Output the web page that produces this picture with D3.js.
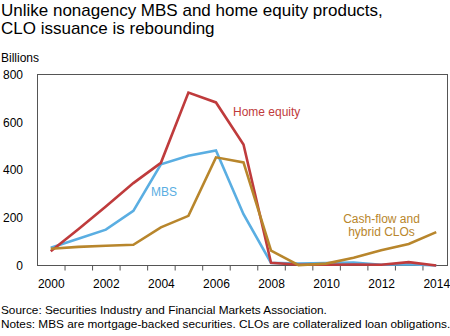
<!DOCTYPE html>
<html>
<head>
<meta charset="utf-8">
<script src="https://cdn.jsdelivr.net/npm/d3@7"></script>
<style>
  html, body { margin: 0; padding: 0; background: #fff; }
  svg { display: block; font-family: "Liberation Sans", Arial, sans-serif; }
</style>
</head>
<body>
<svg id="chart" width="450" height="336"></svg>
<script>
// Annual issuance, billions of dollars
const years = [2000, 2001, 2002, 2003, 2004, 2005, 2006, 2007, 2008, 2009, 2010, 2011, 2012, 2013, 2014];
const homeEquity = [60, 152, 247, 345, 430, 724, 683, 507, 11, 3, 3, 4, 3, 14, 0];
const mbs = [74, 112, 150, 229, 424, 460, 482, 215, 11, 8, 10, 12, 3, 5, 0];
const clos = [70, 78, 83, 87, 160, 208, 453, 432, 62, 1, 8, 32, 64, 90, 140];
const yTicks = [0, 200, 400, 600, 800];
const xLabelYears = [2000, 2002, 2004, 2006, 2008, 2010, 2012, 2014];

const colors = { red: "#bf3b3c", blue: "#5aaee2", gold: "#b8862c" };

const svg = d3.select("#chart");

const x = d3.scaleLinear().domain([1999.5, 2014.5]).range([37, 450]);
const y = d3.scaleLinear().domain([0, 800]).range([265.5, 74.5]);

// Title
svg.append("text")
  .attr("x", 1).attr("y", 15.5)
  .attr("font-size", 17).attr("fill", "#000")
  .selectAll("tspan")
  .data(["Unlike nonagency MBS and home equity products,", "CLO issuance is rebounding"])
  .join("tspan")
  .attr("x", 1)
  .attr("dy", (d, i) => i === 0 ? 0 : 18.5)
  .text(d => d);

svg.append("text")
  .attr("x", 1).attr("y", 61.5)
  .attr("font-size", 12).attr("fill", "#000")
  .text("Billions");

// Y axis labels
const yAxis = svg.append("g")
  .attr("transform", "translate(37.5,0)")
  .call(d3.axisLeft(y).tickValues(yTicks).tickSize(0).tickPadding(14.5));
yAxis.select(".domain").remove();
yAxis.selectAll("text").attr("font-size", 12).attr("font-family", "Liberation Sans, Arial, sans-serif").attr("fill", "#000");

// X axis tick marks between years
const xTickAxis = svg.append("g")
  .attr("transform", "translate(0,265.5)")
  .call(d3.axisBottom(x)
    .tickValues(years.slice(0, -1).map(d => d + 0.5))
    .tickSizeInner(5).tickSizeOuter(0).tickFormat(""));
xTickAxis.select(".domain").remove();
xTickAxis.selectAll("line").attr("stroke", "#555");

// X axis year labels
const xLabelAxis = svg.append("g")
  .attr("transform", "translate(0,265.5)")
  .call(d3.axisBottom(x).tickValues(xLabelYears).tickSize(0).tickPadding(14).tickFormat(d3.format("d")));
xLabelAxis.select(".domain").remove();
xLabelAxis.selectAll("text").attr("font-size", 12).attr("font-family", "Liberation Sans, Arial, sans-serif").attr("fill", "#000");

// Plot frame
svg.append("rect")
  .attr("x", 37.5).attr("y", 74.5)
  .attr("width", 410).attr("height", 191)
  .attr("fill", "none").attr("stroke", "#555").attr("stroke-width", 1);

const line = d3.line().x((d, i) => x(years[i])).y(d => y(d));

const series = [
  { values: mbs, color: colors.blue },
  { values: homeEquity, color: colors.red },
  { values: clos, color: colors.gold }
];

svg.selectAll("path.series")
  .data(series)
  .join("path")
  .attr("class", "series")
  .attr("d", d => line(d.values))
  .attr("fill", "none")
  .attr("stroke", d => d.color)
  .attr("stroke-width", 2.6)
  .attr("stroke-linejoin", "miter");

// Series labels
svg.append("text").attr("x", 233).attr("y", 116)
  .attr("font-size", 12).attr("fill", colors.red).text("Home equity");
svg.append("text").attr("x", 151).attr("y", 195.5)
  .attr("font-size", 12).attr("fill", colors.blue).text("MBS");
svg.append("text").attr("x", 381.5).attr("y", 222.5)
  .attr("text-anchor", "middle")
  .attr("font-size", 12).attr("fill", colors.gold)
  .selectAll("tspan")
  .data(["Cash-flow and", "hybrid CLOs"])
  .join("tspan")
  .attr("x", 381.5)
  .attr("dy", (d, i) => i === 0 ? 0 : 13.5)
  .text(d => d);

// Source and notes
svg.append("text").attr("x", 1).attr("y", 314)
  .attr("font-size", 11.8).attr("fill", "#000")
  .text("Source: Securities Industry and Financial Markets Association.");
svg.append("text").attr("x", 1).attr("y", 327.5)
  .attr("font-size", 11.8).attr("fill", "#000")
  .text("Notes: MBS are mortgage-backed securities. CLOs are collateralized loan obligations.");
</script>
</body>
</html>
